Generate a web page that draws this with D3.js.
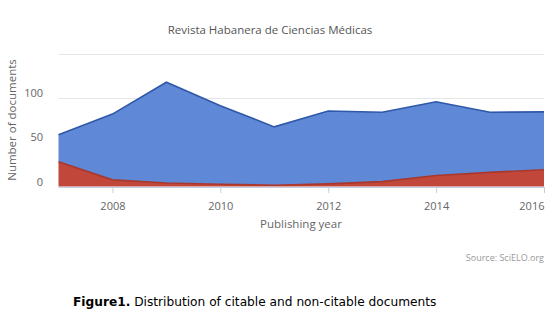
<!DOCTYPE html>
<html><head><meta charset="utf-8">
<script src="https://cdn.jsdelivr.net/npm/d3@7"></script>
<style>body{margin:0;background:#fff}svg{display:block}</style>
</head><body>
<svg id="c" width="554" height="325"></svg>
<script>
const years = [2007,2008,2009,2010,2011,2012,2013,2014,2015,2016];
const nonCitable = [28,7.5,4,2.5,1.5,3,5.5,12.5,16,19];
const totalDocs = [58.5,82,118,91.5,67.5,85.5,84,96,84,84.5];
const citable = totalDocs.map((t,i)=>t-nonCitable[i]);
const yTicks = [0,50,100,150];
const xTicks = [2008,2010,2012,2014,2016];

const svg = d3.select("#c");
const FONT = "'Open Sans', sans-serif";
const x = d3.scaleLinear().domain([2007,2016]).range([58.5,544]);
const y = d3.scaleLinear().domain([0,150]).range([186.5,54]);

// gridlines
svg.append("g").selectAll("line").data(yTicks).join("line")
  .attr("x1",58.5).attr("x2",544).attr("y1",d=>Math.round(y(d))+0.5).attr("y2",d=>Math.round(y(d))+0.5)
  .attr("stroke","#e6e6e6").attr("stroke-width",1);

const data = years.map((yr,i)=>({year:yr, nonCitable:nonCitable[i], citable:citable[i]}));
const stack = d3.stack().keys(["nonCitable","citable"]);
const series = stack(data);
const fills = {nonCitable:"#c2473b", citable:"#5f88d7"};
const strokes = {nonCitable:"#a8382c", citable:"#2f58a8"};
const area = d3.area().x(d=>x(d.data.year)).y0(d=>y(d[0])).y1(d=>y(d[1]));
const line = d3.line().x(d=>x(d.data.year)).y(d=>y(d[1]));

[series[1], series[0]].forEach(s=>{
  svg.append("path").attr("d",area(s)).attr("fill",fills[s.key]);
});
[series[1], series[0]].forEach(s=>{
  svg.append("path").attr("d",line(s)).attr("fill","none").attr("stroke",strokes[s.key]).attr("stroke-width",1.6);
});

// x axis
const xa = svg.append("g").attr("transform","translate(0,187)")
  .call(d3.axisBottom(x).tickValues(xTicks).tickFormat(d3.format("d")).tickSize(6).tickSizeOuter(0));
xa.select(".domain").attr("stroke","#c0d0e0").attr("d","M58.5,0.5H544");
xa.selectAll(".tick line").attr("stroke","#c0d0e0");
xa.selectAll(".tick text").attr("fill","#666").attr("font-size","11px").attr("font-family",FONT).attr("dy","1.25em");
xa.selectAll(".tick text").filter(d=>d===2016).attr("text-anchor","end").attr("x",0);

// y labels
svg.append("g").selectAll("text").data(yTicks.slice(0,3)).join("text")
  .attr("x",43).attr("y",d=>y(d)-1).attr("text-anchor","end").attr("fill","#666")
  .attr("font-size","11px").attr("font-family",FONT).text(d=>d);

// titles
svg.append("text").attr("x",270).attr("y",34).attr("text-anchor","middle").attr("fill","#555")
  .attr("font-size","11.5px").attr("font-family",FONT).text("Revista Habanera de Ciencias Médicas");
svg.append("text").attr("transform","translate(16,120) rotate(-90)").attr("text-anchor","middle").attr("fill","#666")
  .attr("font-size","11.5px").attr("font-family",FONT).text("Number of documents");
svg.append("text").attr("x",301).attr("y",228).attr("text-anchor","middle").attr("fill","#666")
  .attr("font-size","11.5px").attr("font-family",FONT).text("Publishing year");
svg.append("text").attr("x",544).attr("y",261).attr("text-anchor","end").attr("fill","#999")
  .attr("font-size","9px").attr("font-family",FONT).text("Source: SciELO.org");

const cap = svg.append("text").attr("x",73).attr("y",306).attr("fill","#000")
  .attr("font-size","12.2px").attr("font-family","'DejaVu Sans', Verdana, sans-serif");
cap.append("tspan").attr("font-weight","bold").text("Figure1.");
cap.append("tspan").text(" Distribution of citable and non-citable documents");
</script>
</body></html>
